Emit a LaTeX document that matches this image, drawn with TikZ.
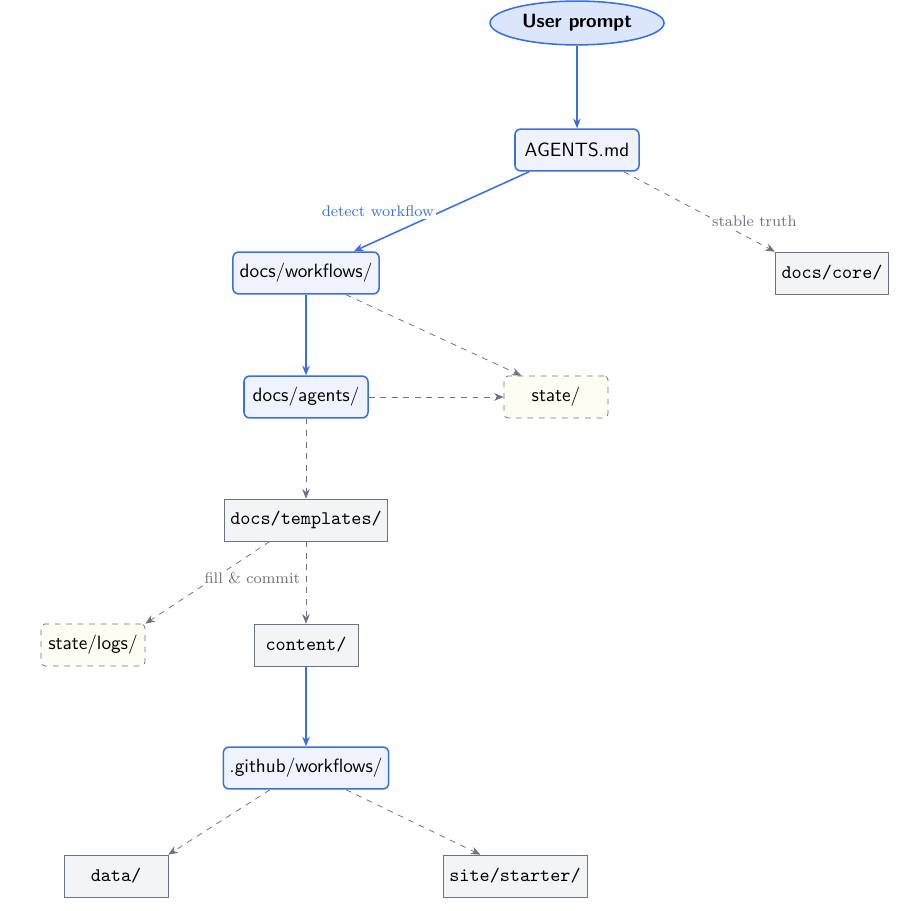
\documentclass[tikz,border=0pt]{standalone}
\usetikzlibrary{shapes.geometric,arrows.meta}
\definecolor{blu}{HTML}{3B6FE0}
\definecolor{blufill}{HTML}{EEF3FD}
\definecolor{ellfill}{HTML}{DCE6FB}
\definecolor{gr}{HTML}{6B7280}
\definecolor{grfill}{HTML}{F3F4F6}
\definecolor{yfill}{HTML}{FEFDF4}
\begin{document}
\begin{tikzpicture}[x=0.52pt,y=-0.52pt,
 base/.style={minimum height=21.8pt,inner sep=0pt,font=\sffamily},
 prim/.style={base,draw=blu,fill=blufill,rounded corners=3pt,thick},
 mono/.style={base,draw=gr,fill=grfill,font=\ttfamily},
 st/.style={base,draw=gr,dashed,fill=yfill,rounded corners=2pt},
 barr/.style={draw=blu,thick,-{Stealth[length=5pt,width=4pt]}},
 darr/.style={draw=gr,dashed,-{Stealth[length=5pt,width=4pt]}},
 lab/.style={fill=white,inner sep=1pt,font=\footnotesize}]
\path[use as bounding box] (0,0) rectangle (924,911);
\node[ellipse,draw=blu,fill=ellfill,thick,minimum width=90.5pt,minimum height=22.8pt,inner sep=0pt,font=\sffamily\bfseries] (up) at (577,23) {User prompt};
\node[prim,minimum width=64.5pt] (ag) at (577,150) {AGENTS.md};
\node[prim,minimum width=76pt] (wf) at (306,273) {docs/workflows/};
\node[mono,minimum width=59pt] (core) at (832,273) {docs/core/};
\node[prim,minimum width=64.5pt] (agents) at (306,397) {docs/agents/};
\node[st,minimum width=54pt] (state) at (556,397) {state/};
\node[mono,minimum width=85pt] (tpl) at (306,520) {docs/templates/};
\node[st,minimum width=54pt] (logs) at (93,645) {state/logs/};
\node[mono,minimum width=54pt] (content) at (306,645) {content/};
\node[prim,minimum width=86pt] (gh) at (306,768) {.github/workflows/};
\node[mono,minimum width=54pt] (data) at (116,876) {data/};
\node[mono,minimum width=75pt] (site) at (515,876) {site/starter/};
\coordinate (stIn) at ([xshift=-18pt]state.north);
\coordinate (siteIn) at ([xshift=-18pt]site.north);
\draw[barr] (up) -- (ag);
\draw[barr] (ag) -- node[lab,text=blu,pos=0.55,above left=-2pt] {detect workflow} (wf);
\draw[darr] (ag.south east)++(-16,0) -- node[lab,text=gr,pos=0.62,above right=-4pt] {stable truth} (core.north west);
\draw[barr] (wf) -- (agents);
\draw[darr] (wf.south)++(40,0) -- (stIn);
\draw[darr] (agents) -- (state);
\draw[darr] (agents) -- (tpl);
\draw[darr] (tpl.south)++(-36,0) -- node[lab,text=gr,pos=0.45,right=-6pt] {fill \& commit} (logs.north east);
\draw[darr] (tpl) -- (content);
\draw[barr] (content) -- (gh);
\draw[darr] (gh.south)++(-36,0) -- (data.north east);
\draw[darr] (gh.south)++(40,0) -- (siteIn);
\end{tikzpicture}
\end{document}
